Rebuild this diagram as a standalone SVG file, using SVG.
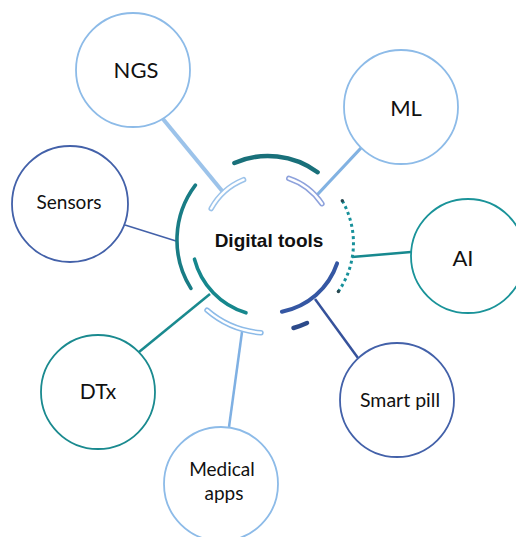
<svg xmlns="http://www.w3.org/2000/svg" width="516" height="537" viewBox="0 0 516 537">
<style>
.node{fill:#fff;stroke-width:1.8}
.lbl{font-family:Lato,"Open Sans","Liberation Sans",sans-serif;fill:#111;text-anchor:middle}
.lb{stroke:#8dbbe8}
.db{stroke:#4361a9}
.tl{stroke:#1a9399}
.arc{fill:none;stroke-linecap:round}
.hol{fill:none;stroke-linecap:round;stroke-width:5.5}
.holin{fill:none;stroke:#fff;stroke-linecap:round;stroke-width:2.4}
.ln{fill:none}
</style>
<rect width="516" height="537" fill="#fff"/>
<g id="connectors">
  <line class="ln" x1="163" y1="119" x2="223" y2="192" stroke="#9cc3ea" stroke-width="4"/>
  <line class="ln" x1="361" y1="148" x2="317" y2="195" stroke="#82b2e2" stroke-width="3.2"/>
  <line class="ln" x1="125" y1="225" x2="176" y2="241" stroke="#4361a9" stroke-width="1.5"/>
  <line class="ln" x1="352" y1="257" x2="411" y2="252" stroke="#17898f" stroke-width="2.6"/>
  <line class="ln" x1="315" y1="299" x2="358" y2="358" stroke="#36529b" stroke-width="2.5"/>
  <line class="ln" x1="210" y1="294" x2="139" y2="352" stroke="#1a8a8f" stroke-width="2.5"/>
  <line class="ln" x1="242" y1="332" x2="229" y2="427" stroke="#7fb0e3" stroke-width="2.5"/>
</g>
<g id="hub">
  <path class="arc" d="M234.4,163 A84,84 0 0 1 317.6,172.2" stroke="#19707a" stroke-width="4.5"/>
  <path class="arc" d="M195.4,185.1 A91,91 0 0 0 190.9,288.4" stroke="#197c85" stroke-width="3.6"/>
  <path class="arc" d="M194.5,259.2 A76,76 0 0 0 246,312.8" stroke="#16878d" stroke-width="3.6"/>
  <path class="arc" d="M337.1,263.4 A73,73 0 0 1 281.9,311.7" stroke="#3557a3" stroke-width="4"/>
  <path class="arc" d="M293.5,328 A91.5,91.5 0 0 0 307,323" stroke="#2c4a8a" stroke-width="4.5"/>
  <path d="M342.3,200.8 A85.5,85.5 0 0 1 338.4,291.5" fill="none" stroke="#17909a" stroke-width="3" stroke-dasharray="3 3.2"/>
  <circle cx="342.3" cy="200.8" r="1.7" fill="#29474f"/>
  <circle cx="338.4" cy="291.5" r="1.7" fill="#29474f"/>
  <path class="hol" d="M211.2,208.5 A65,65 0 0 1 243.6,179.7" stroke="#9cc3ea"/>
  <path class="holin" d="M211.2,208.5 A65,65 0 0 1 243.6,179.7"/>
  <path class="hol" d="M288.8,178.4 A65,65 0 0 1 321.9,203.7" stroke="#8ea2dc"/>
  <path class="holin" d="M288.8,178.4 A65,65 0 0 1 321.9,203.7"/>
  <path class="hol" d="M207,310.2 A93,93 0 0 0 261,332.7" stroke="#8dbbe8"/>
  <path class="holin" d="M207,310.2 A93,93 0 0 0 261,332.7"/>
  <text x="269" y="247" font-family="'Liberation Sans',Arial,sans-serif" font-weight="bold" font-size="19" fill="#111" text-anchor="middle">Digital tools</text>
</g>
<g id="ngs">
  <circle class="node lb" cx="133" cy="70" r="57"/>
  <text class="lbl" x="136" y="78" font-size="22">NGS</text>
</g>
<g id="ml">
  <circle class="node lb" cx="401" cy="107" r="57"/>
  <text class="lbl" x="406" y="116" font-size="22">ML</text>
</g>
<g id="sensors">
  <circle class="node db" cx="70" cy="204" r="58"/>
  <text class="lbl" x="69" y="209" font-size="19">Sensors</text>
</g>
<g id="ai">
  <circle class="node tl" cx="468" cy="256" r="57"/>
  <text class="lbl" x="463" y="266" font-size="22">AI</text>
</g>
<g id="dtx">
  <circle class="node" stroke="#1a8a8f" cx="98" cy="392" r="57"/>
  <text class="lbl" x="98" y="399" font-size="21">DTx</text>
</g>
<g id="medical-apps">
  <circle class="node lb" cx="221" cy="484" r="57"/>
  <text class="lbl" x="222" y="476" font-size="19">Medical</text>
  <text class="lbl" x="224" y="500" font-size="19">apps</text>
</g>
<g id="smart-pill">
  <circle class="node db" cx="397" cy="400" r="57"/>
  <text class="lbl" x="400" y="407" font-size="19.5">Smart pill</text>
</g>
</svg>
